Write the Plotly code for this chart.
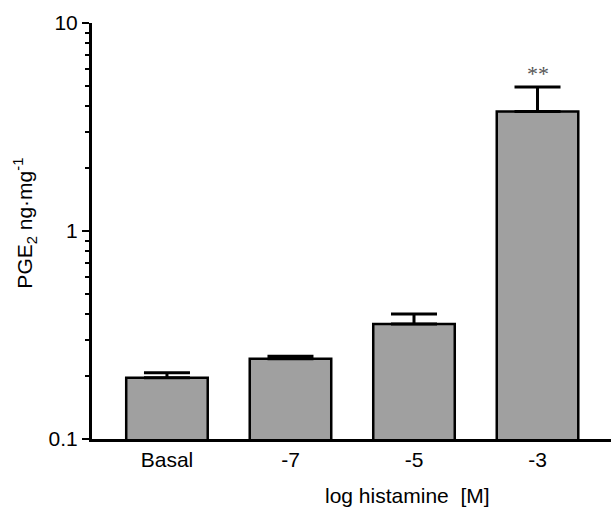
import math
import plotly.graph_objects as go

categories = ["Basal", "-7", "-5", "-3"]
values = [0.197, 0.243, 0.357, 3.75]
errors_up = [0.011, 0.007, 0.042, 1.17]
significance = ["", "", "", "**"]
y_tickvals = [0.1, 1, 10]
y_ticktext = ["0.1", "1", "10"]

FONT = "Liberation Sans, Arial, sans-serif"

fig = go.Figure()
fig.add_trace(go.Bar(
    x=list(range(len(categories))),
    y=values,
    width=0.66,
    marker=dict(color="#a0a0a0", line=dict(color="black", width=2.5)),
    error_y=dict(type="data", symmetric=False, array=errors_up,
                 arrayminus=[0] * len(values), color="black",
                 thickness=3, width=23),
    showlegend=False,
))

for i, s in enumerate(significance):
    if s:
        fig.add_annotation(x=i, y=math.log10(values[i] + errors_up[i]), xref="x", yref="y",
                           text=s, showarrow=False, yanchor="bottom", yshift=-1,
                           font=dict(family="Liberation Serif, Times New Roman, serif",
                                     size=22, color="#555555"))

fig.add_annotation(xref="paper", yref="paper", x=0.607, y=-0.137,
                   text="log histamine  [M]", showarrow=False,
                   xanchor="center", yanchor="middle",
                   font=dict(family=FONT, size=21, color="black"))
fig.add_annotation(xref="paper", yref="paper", x=-0.13, y=0.519,
                   text="PGE<sub>2</sub> ng·mg<sup>-1</sup>", showarrow=False,
                   textangle=-90, xanchor="center", yanchor="middle",
                   font=dict(family=FONT, size=21, color="black"))

fig.update_layout(
    width=611, height=511,
    margin=dict(l=92, r=0, t=23, b=72),
    plot_bgcolor="white", paper_bgcolor="white",
    xaxis=dict(
        range=[-0.607, 3.595],
        tickmode="array", tickvals=list(range(len(categories))), ticktext=categories,
        showline=True, linecolor="black", linewidth=2.5,
        ticks="", showgrid=False, zeroline=False,
        tickfont=dict(family=FONT, size=21, color="black"),
    ),
    yaxis=dict(
        type="log", range=[-1, 1],
        tickmode="array", tickvals=y_tickvals, ticktext=y_ticktext,
        showline=True, linecolor="black", linewidth=3,
        ticks="outside", ticklen=7, tickwidth=2, tickcolor="black",
        showgrid=False, zeroline=False,
        tickfont=dict(family=FONT, size=21, color="black"),
        minor=dict(ticks="outside", ticklen=4, tickwidth=2, tickcolor="black",
                   tickvals=[0.2, 0.3, 0.4, 0.5, 0.6, 0.7, 0.8, 0.9,
                             2, 3, 4, 5, 6, 7, 8, 9], showgrid=False),
    ),
)

fig.write_html("out.html")
